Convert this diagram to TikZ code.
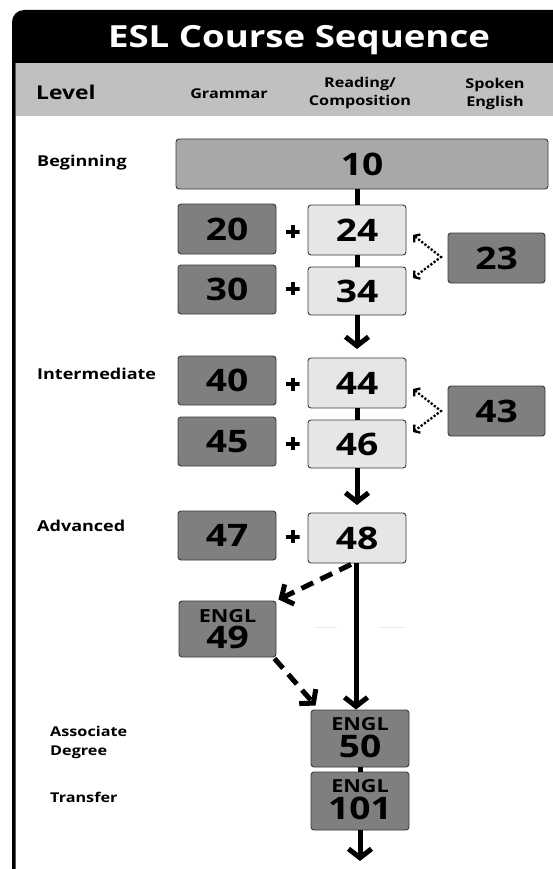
\documentclass[tikz,border=0pt]{standalone}
\usepackage{fontspec}
\setmainfont{Open Sans}[FakeStretch=1.2]
\usetikzlibrary{arrows.meta}
\definecolor{hdrgray}{HTML}{C0C0C2}
\definecolor{dkgray}{HTML}{7F7F80}
\definecolor{mdgray}{HTML}{A8A8AA}
\definecolor{ltgray}{HTML}{E6E6E7}
\definecolor{edgegray}{HTML}{3A3A3A}
\begin{document}
\begin{tikzpicture}[x=1pt,y=-1pt,
  box/.style={draw=edgegray, line width=0.9pt, rounded corners=3pt, inner sep=0pt,
    font=\fontsize{31pt}{31pt}\selectfont\bfseries},
  dkbox/.style={box, fill=dkgray, minimum width=98pt, minimum height=50pt},
  ltbox/.style={box, fill=ltgray, minimum width=98pt, minimum height=50pt},
  mdbox/.style={box, fill=mdgray},
  engl/.style={inner sep=0pt, anchor=base, text depth=0pt, font=\fontsize{18pt}{18pt}\selectfont\bfseries},
  englnum/.style={inner sep=0pt, anchor=base, text height=21pt, font=\fontsize{31pt}{31pt}\selectfont\bfseries},
  lvl/.style={inner sep=0pt, anchor=base west, font=\fontsize{15pt}{15pt}\selectfont\bfseries},
  lvlsmall/.style={inner sep=0pt, anchor=base west, font=\fontsize{13.5pt}{13.5pt}\selectfont\bfseries},
  hdr/.style={inner sep=0pt, anchor=base, font=\fontsize{13.5pt}{13.5pt}\selectfont\bfseries},
  plussign/.style={inner sep=0pt, minimum width=14pt, minimum height=13pt,
    path picture={\draw[line width=4pt]
      (path picture bounding box.west) -- (path picture bounding box.east)
      (path picture bounding box.north) -- (path picture bounding box.south);}},
  conn/.style={line width=5pt},
  mainarrow/.style={line width=5pt, -{Straight Barb[length=9pt,width=23pt]}},
  dasharrow/.style={line width=5pt, dash pattern=on 13pt off 8pt, -{Straight Barb[length=9pt,width=22pt]}},
  dotarrow/.style={line width=2.3pt, dash pattern=on 2.2pt off 1.8pt, {Straight Barb[length=4pt,width=10pt]}-{Straight Barb[length=4pt,width=10pt]}}
]
\useasboundingbox (0,0) rectangle (553,869);
\fill[white] (0,0) rectangle (553,869);
% frame and title bar
\fill[black] (12,869) -- (12,22) .. controls (12,15.4) and (17.4,10) .. (24,10)
  -- (553,10) -- (553,63) -- (15.5,63) -- (15.5,869) -- cycle;
\fill[hdrgray] (15.5,63) rectangle (553,116);
\node[inner sep=0pt, anchor=base, text=white, font=\fontsize{30.5pt}{30.5pt}\selectfont\bfseries] (title) at (299,48) {ESL Course Sequence};
% header
\node[inner sep=0pt, anchor=base west, font=\fontsize{19pt}{19pt}\selectfont\bfseries] (hlevel) at (36,100) {Level};
\node[hdr] (hgram) at (229,99) {Grammar};
\node[hdr] (hread1) at (360,88) {Reading/};
\node[hdr] (hread2) at (360,106) {Composition};
\node[hdr] (hspok1) at (495,89) {Spoken};
\node[hdr] (hspok2) at (495,107) {English};
% level labels
\node[lvl] (lbeg) at (37,167) {Beginning};
\node[lvl] (lint) at (37,379) {Intermediate};
\node[lvl] (ladv) at (37,531) {Advanced};
\node[lvlsmall] (lassoc1) at (50,736) {Associate};
\node[lvlsmall] (lassoc2) at (50,755) {Degree};
\node[lvlsmall] (ltrans) at (50,802) {Transfer};
% boxes
\node[mdbox, minimum width=372pt, minimum height=50pt] (b10) at (362,164) {10};
\node[dkbox] (b20) at (227,229) {20};
\node[ltbox] (b24) at (357,230) {24};
\node[dkbox, minimum height=49pt] (b30) at (227,289.5) {30};
\node[ltbox, minimum height=48pt] (b34) at (357,291) {34};
\node[dkbox, minimum width=97pt] (b23) at (496.5,258) {23};
\node[dkbox, minimum height=49pt] (b40) at (227,380.5) {40};
\node[ltbox] (b44) at (357,383) {44};
\node[dkbox, minimum height=49pt] (b45) at (227,441.5) {45};
\node[ltbox, minimum height=48pt] (b46) at (357,444) {46};
\node[dkbox, minimum width=97pt] (b43) at (496.5,411) {43};
\node[dkbox, minimum height=49pt] (b47) at (227,535.5) {47};
\node[ltbox] (b48) at (357,538) {48};
\node[dkbox, minimum width=97pt, minimum height=56pt] (b49) at (227.5,629) {};
\node[engl] (b49a) at (227.5,622) {ENGL};
\node[englnum] (b49b) at (227.5,648.5) {49};
\node[dkbox, minimum height=57pt] (b50) at (360,738.5) {};
\node[engl] (b50a) at (360,730.5) {ENGL};
\node[englnum] (b50b) at (360,757) {50};
\node[dkbox, minimum height=58pt] (b101) at (360,801) {};
\node[engl] (b101a) at (360,792.5) {ENGL};
\node[englnum] (b101b) at (360,819) {101};
% plus signs
\node[plussign] (p1) at (292.5,231.5) {};
\node[plussign] (p2) at (292.5,288.5) {};
\node[plussign] (p3) at (292.5,384) {};
\node[plussign] (p4) at (292.5,443.5) {};
\node[plussign] (p5) at (292.5,536.5) {};
% faint remnants
\draw[black!8, line width=1pt] (314,627) -- (337,627) (378,627) -- (406,627);
% coordinates
\coordinate (a1) at (357,349);
\coordinate (a2) at (357,505);
\coordinate (a4) at (360,861);
\coordinate (v23) at (441,257);
\coordinate (t24) at (413,235);
\coordinate (t34) at (413,278);
\coordinate (v43) at (441,411);
\coordinate (t44) at (413,389);
\coordinate (t46) at (413,432);
% connectors
\draw[conn] (b24.north) -- (b24.north |- b10.south);
\draw[conn] (b24.south) -- (b34.north);
\draw[mainarrow] (b34.south) -- (a1);
\draw[conn] (b44.south) -- (b46.north);
\draw[mainarrow] (b46.south) -- (a2);
\draw[mainarrow] ([xshift=-1pt]b48.south) -- ([xshift=-1pt]b48.south |- b50.north);
\draw[dasharrow] ([xshift=-6pt,yshift=-1pt]b48.south) -- ([xshift=2pt,yshift=1pt]b49.north east);
\draw[dasharrow] ([xshift=-2pt,yshift=-1pt]b49.south east) -- ([xshift=5pt,yshift=4pt]b50.north west);
\draw[conn] (b50.south) -- (b101.north);
\draw[mainarrow] (b101.south) -- (a4);
\draw[dotarrow] (t24) -- (v23) -- (t34);
\draw[dotarrow] (t44) -- (v43) -- (t46);
\end{tikzpicture}
\end{document}
